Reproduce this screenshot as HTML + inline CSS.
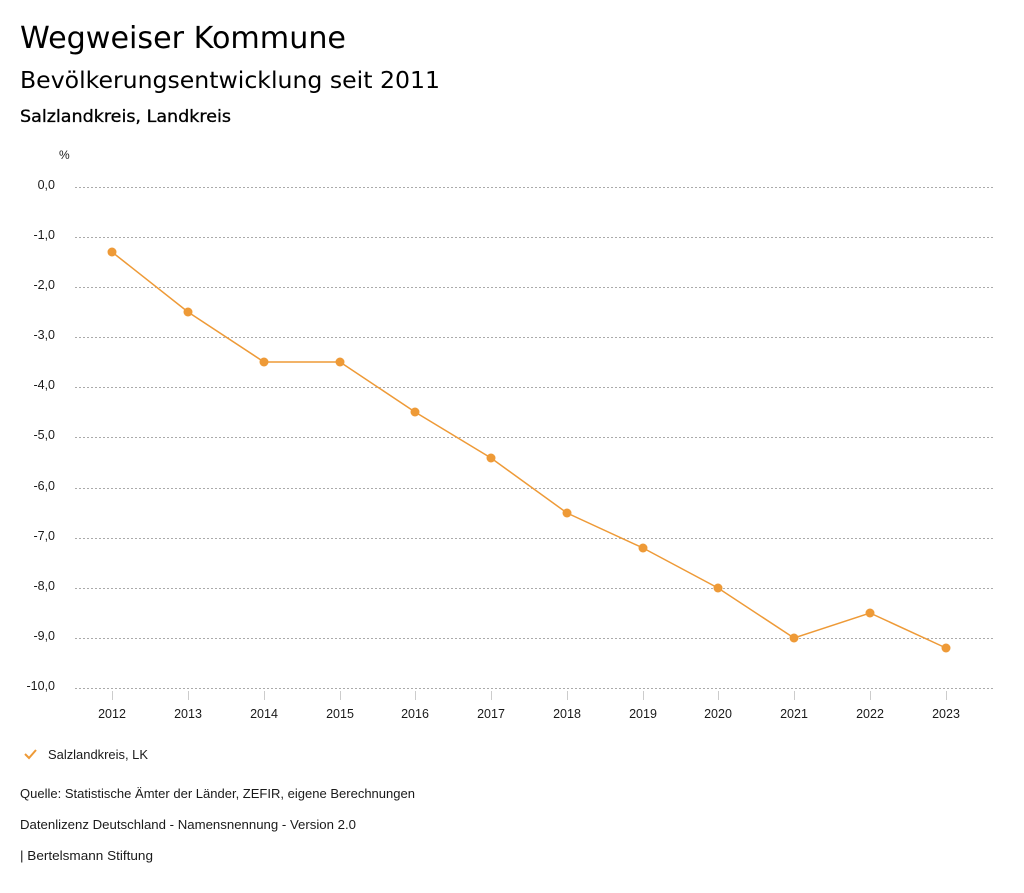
<!DOCTYPE html>
<html><head><meta charset="utf-8"><style>
html,body{margin:0;padding:0;background:#fff;}
svg text{font-family:"Liberation Sans",sans-serif;fill:#1a1a1a;}
.t{font-family:"DejaVu Sans",sans-serif;fill:#000;}
</style></head><body>
<svg width="1024" height="888" xmlns="http://www.w3.org/2000/svg">
<text class="t" x="20" y="48" font-size="30" textLength="326" lengthAdjust="spacingAndGlyphs">Wegweiser Kommune</text>
<text class="t" x="20" y="88" font-size="23" textLength="420" lengthAdjust="spacingAndGlyphs">Bevölkerungsentwicklung seit 2011</text>
<text class="t" x="20" y="122" font-size="17" font-weight="500" textLength="211" lengthAdjust="spacingAndGlyphs" stroke="#000" stroke-width="0.3">Salzlandkreis, Landkreis</text>
<text x="59" y="159" font-size="12">%</text>
<g stroke="#aaa" stroke-width="1" stroke-dasharray="2,2">
<line x1="75" x2="993" y1="187.5" y2="187.5"/><line x1="75" x2="993" y1="237.5" y2="237.5"/>
<line x1="75" x2="993" y1="287.5" y2="287.5"/><line x1="75" x2="993" y1="337.5" y2="337.5"/>
<line x1="75" x2="993" y1="387.5" y2="387.5"/><line x1="75" x2="993" y1="437.5" y2="437.5"/>
<line x1="75" x2="993" y1="488.5" y2="488.5"/><line x1="75" x2="993" y1="538.5" y2="538.5"/>
<line x1="75" x2="993" y1="588.5" y2="588.5"/><line x1="75" x2="993" y1="638.5" y2="638.5"/>
<line x1="75" x2="993" y1="688.5" y2="688.5"/>
</g>
<g font-size="12.5" text-anchor="end">
<text x="55" y="189">0,0</text><text x="55" y="239">-1,0</text><text x="55" y="289">-2,0</text>
<text x="55" y="339">-3,0</text><text x="55" y="389">-4,0</text><text x="55" y="439">-5,0</text>
<text x="55" y="490">-6,0</text><text x="55" y="540">-7,0</text><text x="55" y="590">-8,0</text>
<text x="55" y="640">-9,0</text><text x="55" y="690">-10,0</text>
</g>
<g stroke="#ccc"><line x1="112.5" x2="112.5" y1="691" y2="700"/><line x1="188.5" x2="188.5" y1="691" y2="700"/><line x1="264.5" x2="264.5" y1="691" y2="700"/><line x1="340.5" x2="340.5" y1="691" y2="700"/><line x1="415.5" x2="415.5" y1="691" y2="700"/><line x1="491.5" x2="491.5" y1="691" y2="700"/><line x1="567.5" x2="567.5" y1="691" y2="700"/><line x1="643.5" x2="643.5" y1="691" y2="700"/><line x1="718.5" x2="718.5" y1="691" y2="700"/><line x1="794.5" x2="794.5" y1="691" y2="700"/><line x1="870.5" x2="870.5" y1="691" y2="700"/><line x1="946.5" x2="946.5" y1="691" y2="700"/></g>
<g font-size="12.5" text-anchor="middle">
<text x="112" y="718">2012</text><text x="188" y="718">2013</text><text x="264" y="718">2014</text><text x="340" y="718">2015</text><text x="415" y="718">2016</text><text x="491" y="718">2017</text><text x="567" y="718">2018</text><text x="643" y="718">2019</text><text x="718" y="718">2020</text><text x="794" y="718">2021</text><text x="870" y="718">2022</text><text x="946" y="718">2023</text>
</g>
<polyline fill="none" stroke="#ee9a37" stroke-width="1.5" points="112,252 188,312 264,362 340,362 415,412 491,458 567,513 643,548 718,588 794,638 870,613 946,648"/>
<g fill="#ee9a37">
<circle cx="112" cy="252" r="4.5"/><circle cx="188" cy="312" r="4.5"/><circle cx="264" cy="362" r="4.5"/><circle cx="340" cy="362" r="4.5"/><circle cx="415" cy="412" r="4.5"/><circle cx="491" cy="458" r="4.5"/><circle cx="567" cy="513" r="4.5"/><circle cx="643" cy="548" r="4.5"/><circle cx="718" cy="588" r="4.5"/><circle cx="794" cy="638" r="4.5"/><circle cx="870" cy="613" r="4.5"/><circle cx="946" cy="648" r="4.5"/>
</g>
<polyline fill="none" stroke="#ee9a37" stroke-width="2" points="25,754 29,758 36,750"/>
<text x="48" y="759" font-size="13" textLength="100" lengthAdjust="spacingAndGlyphs">Salzlandkreis, LK</text>
<text x="20" y="798" font-size="13" textLength="395" lengthAdjust="spacingAndGlyphs">Quelle: Statistische Ämter der Länder, ZEFIR, eigene Berechnungen</text>
<text x="20" y="829" font-size="13" textLength="336" lengthAdjust="spacingAndGlyphs">Datenlizenz Deutschland - Namensnennung - Version 2.0</text>
<text x="20" y="860" font-size="13" textLength="133" lengthAdjust="spacingAndGlyphs">| Bertelsmann Stiftung</text>
</svg>
</body></html>
